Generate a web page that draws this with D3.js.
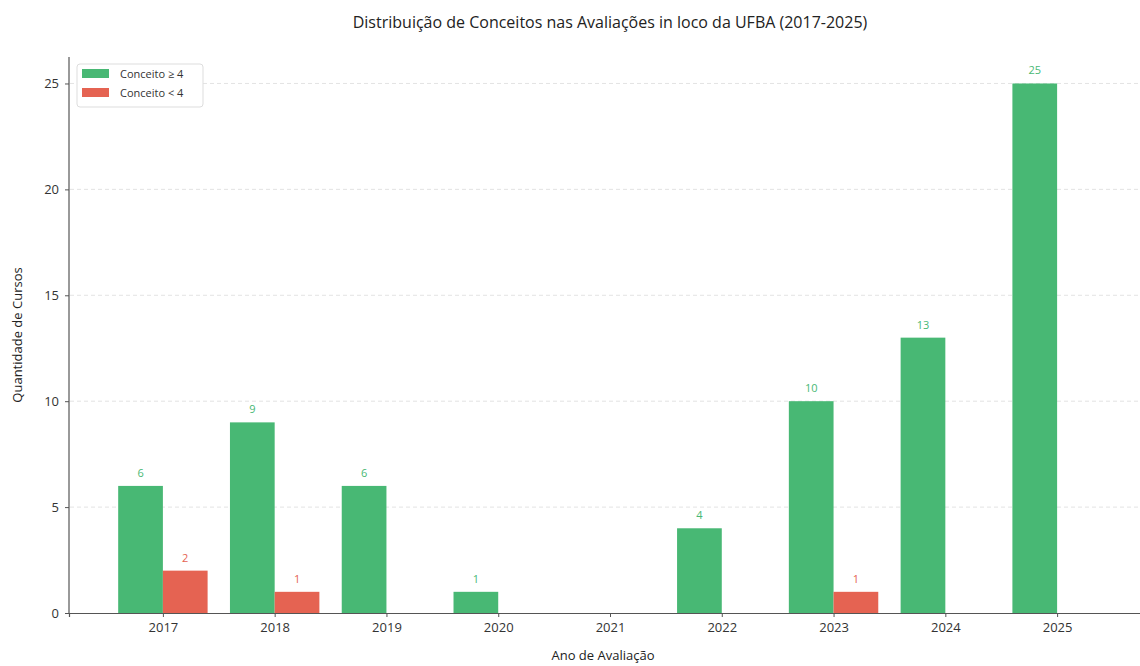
<!DOCTYPE html>
<html><head><meta charset="utf-8">
<script src="https://cdn.jsdelivr.net/npm/d3@7"></script>
<style>body{margin:0;background:#fff}text{font-family:"Open Sans",sans-serif}</style>
</head><body><svg id="c" width="1140" height="666"></svg>
<script>
const years = ["2017","2018","2019","2020","2021","2022","2023","2024","2025"];
const aprovados = [6, 9, 6, 1, 0, 4, 10, 13, 25];
const reprovados = [2, 1, 0, 0, 0, 0, 1, 0, 0];
const yTicks = [0, 5, 10, 15, 20, 25];
const seriesNames = ["Conceito ≥ 4", "Conceito < 4"];
const colors = ["#48b874", "#e56352"];

(function(){
const svg = d3.select("#c");
const mLeft = 69, mBottom = 613, mTop = 57;
const x = d3.scaleLinear().domain([-0.84, 8.84]).range([mLeft, 1151]);
const y = d3.scaleLinear().domain([0, 26.25]).range([mBottom, mTop]);
const bw = 0.4;

// grid
svg.append("g").selectAll("line").data(yTicks.filter(d => d > 0)).join("line")
  .attr("x1", mLeft + 1).attr("x2", 1140).attr("y1", d => y(d)).attr("y2", d => y(d))
  .attr("stroke", "#dcdcdc").attr("stroke-dasharray", "4,3").attr("stroke-width", 0.8);

// bars
const series = [aprovados, reprovados];
series.forEach((vals, s) => {
  const off = s === 0 ? -bw : 0;
  const g = svg.append("g");
  vals.forEach((v, i) => {
    if (v <= 0) return;
    g.append("rect").attr("x", x(i + off)).attr("width", x(i + off + bw) - x(i + off))
      .attr("y", y(v)).attr("height", y(0) - y(v)).attr("fill", colors[s]);
    g.append("text").attr("x", x(i + off + bw / 2)).attr("y", y(v) - 9)
      .attr("text-anchor", "middle").attr("font-size", 11).attr("fill", colors[s]).text(v);
  });
});

// axes
const xAxis = d3.axisBottom(x).tickValues(d3.range(years.length)).tickFormat(i => years[i]).tickSize(4).tickPadding(6);
const gx = svg.append("g").attr("transform", `translate(0,${mBottom})`).call(xAxis);
gx.select(".domain").attr("stroke", "#555").attr("stroke-width", 1.2);
gx.selectAll(".tick line").attr("stroke", "#555");
gx.selectAll("text").attr("font-size", 13).attr("fill", "#333").attr("font-family", "Open Sans, sans-serif");

const yAxis = d3.axisLeft(y).tickValues(yTicks).tickSize(4).tickPadding(6);
const gy = svg.append("g").attr("transform", `translate(${mLeft},0)`).call(yAxis);
gy.select(".domain").attr("stroke", "#555").attr("stroke-width", 1.2).attr("d", `M0,${mBottom}V${mTop}`);
gy.selectAll(".tick line").attr("stroke", "#555");
gy.selectAll("text").attr("font-size", 13).attr("fill", "#333").attr("font-family", "Open Sans, sans-serif");

// titles
svg.append("text").attr("x", 610).attr("y", 28).attr("text-anchor", "middle")
  .attr("font-size", 16).attr("fill", "#222").text("Distribuição de Conceitos nas Avaliações in loco da UFBA (2017-2025)");
svg.append("text").attr("x", 603).attr("y", 660).attr("text-anchor", "middle")
  .attr("font-size", 13).attr("fill", "#222").text("Ano de Avaliação");
svg.append("text").attr("transform", "translate(22,335) rotate(-90)").attr("text-anchor", "middle")
  .attr("font-size", 13).attr("fill", "#222").text("Quantidade de Cursos");

// legend
const lg = svg.append("g");
lg.append("rect").attr("x", 77).attr("y", 64).attr("width", 126).attr("height", 43).attr("rx", 3)
  .attr("fill", "#fff").attr("stroke", "#ddd");
seriesNames.forEach((n, i) => {
  lg.append("rect").attr("x", 82).attr("y", 69 + i * 19).attr("width", 27).attr("height", 9).attr("fill", colors[i]);
  lg.append("text").attr("x", 120).attr("y", 78 + i * 19).attr("font-size", 11).attr("fill", "#333").text(n);
});
})();
</script></body></html>
